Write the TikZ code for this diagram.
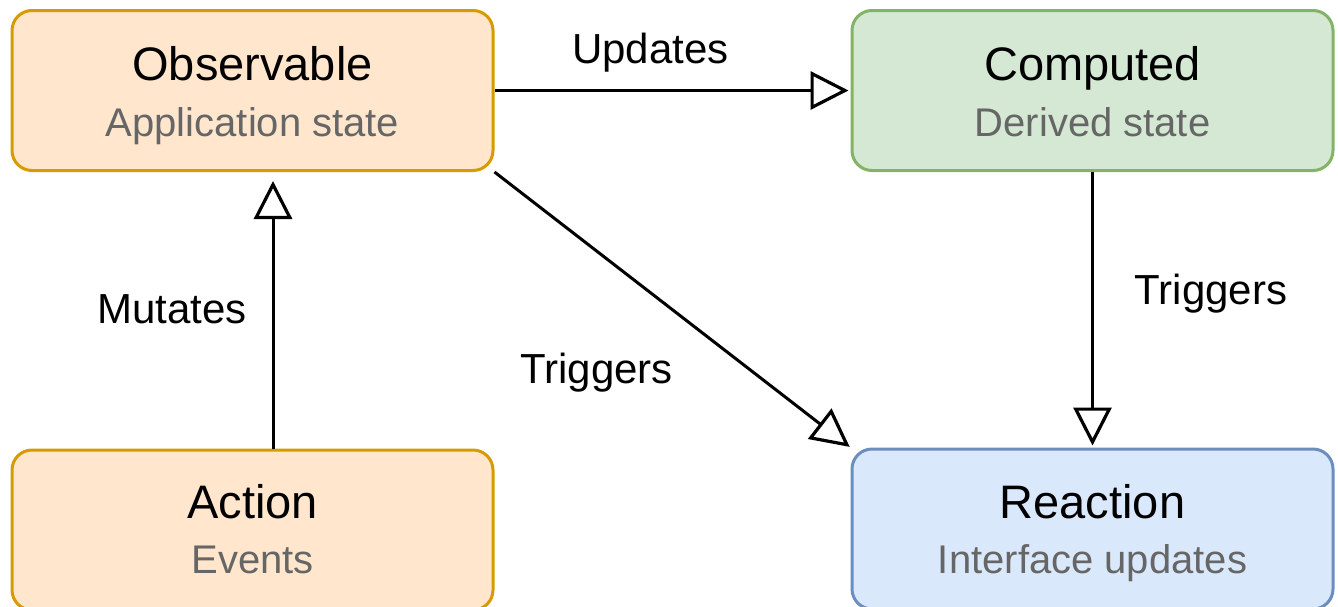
\documentclass[tikz,border=0pt]{standalone}
\usepackage{fontspec}
\setmainfont{Liberation Sans}
\usetikzlibrary{arrows.meta,calc}

\definecolor{orangefill}{HTML}{FFE6CC}
\definecolor{orangeline}{HTML}{D79B00}
\definecolor{greenfill}{HTML}{D5E8D4}
\definecolor{greenline}{HTML}{82B366}
\definecolor{bluefill}{HTML}{DAE8FC}
\definecolor{blueline}{HTML}{6C8EBF}
\definecolor{subgray}{HTML}{666666}

\tikzset{
  card/.style={rectangle, rounded corners=20pt, line width=3pt,
    minimum width=481pt, minimum height=160pt, inner sep=0pt},
  orangecard/.style={card, draw=orangeline, fill=orangefill},
  greencard/.style={card, draw=greenline, fill=greenfill},
  bluecard/.style={card, draw=blueline, fill=bluefill},
  title/.style={anchor=base, inner sep=0pt, font=\fontsize{47}{50}\selectfont},
  subtitle/.style={anchor=base, inner sep=0pt, text=subgray, font=\fontsize{40}{44}\selectfont},
  edgelabel/.style={anchor=base, inner sep=0pt, font=\fontsize{42}{46}\selectfont},
  flow/.style={line width=3pt, -{Triangle[open, length=38pt, width=38pt, line width=3.2pt]}},
}

\begin{document}
\begin{tikzpicture}[x=1pt, y=-1pt]
  \useasboundingbox (0,0) rectangle (1338,606);

  % state boxes
  \node[orangecard] (obs)   at (252.5, 90.5) {};
  \node[greencard]  (comp)  at (1092.5, 90.5) {};
  \node[orangecard] (act)   at (252.5, 530) {};
  \node[bluecard]   (react) at (1092.5, 529) {};

  % box texts
  \node[title]    (obsT)   at ($(obs.north)+(0,71)$)    {Observable};
  \node[subtitle] (obsS)   at ($(obs.north)+(0,127)$)   {Application state};
  \node[title]    (compT)  at ($(comp.north)+(0,71)$)   {Computed};
  \node[subtitle] (compS)  at ($(comp.north)+(0,127)$)  {Derived state};
  \node[title]    (actT)   at ($(act.north)+(0,70)$)    {Action};
  \node[subtitle] (actS)   at ($(act.north)+(0,125)$)   {Events};
  \node[title]    (reactT) at ($(react.north)+(0,71)$)  {Reaction};
  \node[subtitle] (reactS) at ($(react.north)+(0,126)$) {Interface updates};

  % connectors
  \draw[flow, shorten >=2pt] (obs.east) -- (comp.west);
  \draw[flow, shorten >=9pt] (act.north -| 273,0) -- (obs.south -| 273,0);
  \draw[flow, shorten >=2pt] (comp.south) -- (react.north);
  \draw[flow, shorten >=1pt] (obs.south east) -- (react.north west);

  % connector labels
  \node[edgelabel] (lupd) at (650.5, 63)  {Updates};
  \node[edgelabel] (lmut) at (172, 323)   {Mutates};
  \node[edgelabel] (ltr1) at (596.5, 383) {Triggers};
  \node[edgelabel] (ltr2) at (1211, 304)  {Triggers};
\end{tikzpicture}
\end{document}
